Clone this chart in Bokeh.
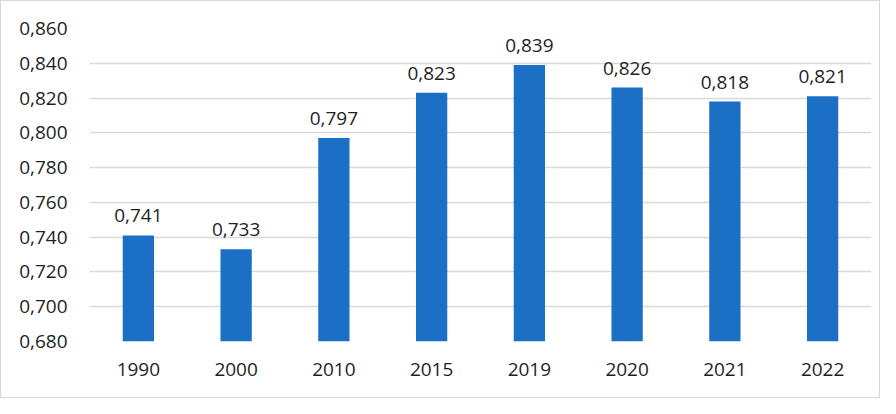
from bokeh.plotting import figure
from bokeh.models import ColumnDataSource, Range1d, FactorRange, FixedTicker, CustomJSTickFormatter
from bokeh.core.properties import value
from bokeh.embed import file_html
from bokeh.resources import INLINE

years = ["1990", "2000", "2010", "2015", "2019", "2020", "2021", "2022"]
values = [0.741, 0.733, 0.797, 0.823, 0.839, 0.826, 0.818, 0.821]
labels = ["0,741", "0,733", "0,797", "0,823", "0,839", "0,826", "0,818", "0,821"]
y_ticks = [0.68, 0.70, 0.72, 0.74, 0.76, 0.78, 0.80, 0.82, 0.84, 0.86]

FONT = "Open Sans"
TXT = "#1f1f1f"

src = ColumnDataSource(dict(x=years, top=values, label=labels))

p = figure(width=880, height=398, output_backend="svg", toolbar_location=None,
           x_range=FactorRange(*years, range_padding=0),
           y_range=Range1d(0.68, 0.86),
           min_border_left=88, min_border_right=10, min_border_top=27, min_border_bottom=58)
p.styles = {"border": "1px solid #d9d9d9"}
p.outline_line_color = None

p.vbar(x="x", top="top", bottom=0.68, width=0.32, source=src,
       fill_color="#1B70C6", line_color=None)
p.text(x="x", y="top", text="label", source=src, text_align="center",
       text_baseline="bottom", y_offset=-13, text_font=value(FONT),
       text_font_size="19px", text_color=TXT)

p.yaxis.ticker = FixedTicker(ticks=y_ticks)
p.yaxis.formatter = CustomJSTickFormatter(code="return tick.toFixed(3).replace('.', ',');")
for ax in (p.xaxis[0], p.yaxis[0]):
    ax.axis_line_color = None
    ax.major_tick_line_color = None
    ax.minor_tick_line_color = None
    ax.major_label_text_font = FONT
    ax.major_label_text_font_size = "19px"
    ax.major_label_text_color = TXT
p.yaxis.major_label_standoff = 16
p.xaxis.major_label_standoff = 15

p.xgrid.grid_line_color = None
p.ygrid.ticker = FixedTicker(ticks=y_ticks)
p.ygrid.grid_line_color = "#d9d9d9"
p.ygrid.grid_line_width = 1.5

open("out.html", "w").write(file_html(p, INLINE))
